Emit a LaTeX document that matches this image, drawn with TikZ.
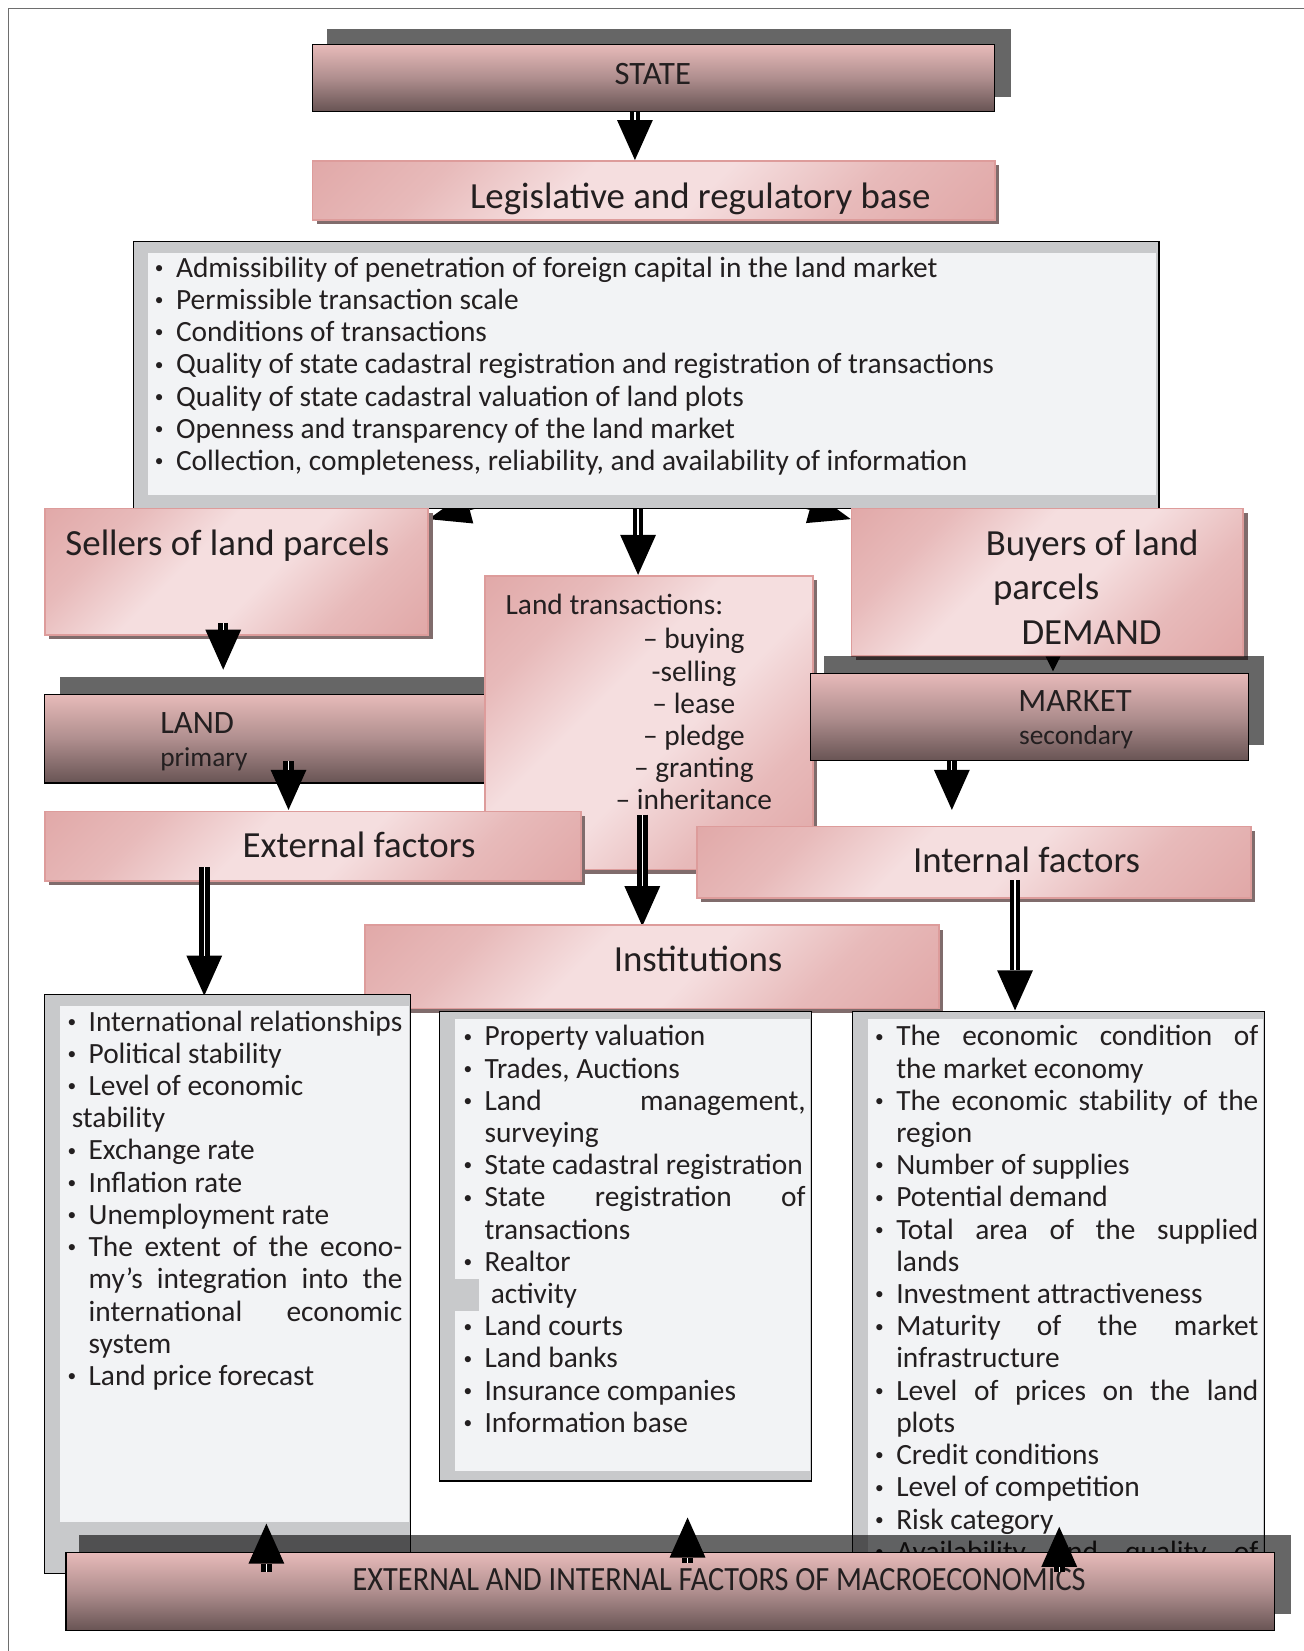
\documentclass[tikz,border=0pt]{standalone}
\usepackage{fontspec}
\setmainfont{Carlito}
\usetikzlibrary{arrows.meta,shadows,calc}
\definecolor{pinkD}{RGB}{218,150,149}
\definecolor{pinkL}{RGB}{245,222,223}
\definecolor{pinkB}{RGB}{221,156,155}
\definecolor{pshad}{RGB}{128,108,108}
\definecolor{darkT}{RGB}{231,186,185}
\definecolor{darkM}{RGB}{175,142,142}
\definecolor{darkB}{RGB}{104,84,84}
\definecolor{listO}{RGB}{200,201,203}
\definecolor{listI}{RGB}{242,243,245}
\definecolor{txt}{RGB}{35,31,32}
\definecolor{frameC}{RGB}{110,110,110}
\pgfdeclareverticalshading{pinkshade}{100bp}{color(0bp)=(pinkD); color(30bp)=(pinkD!50!pinkL); color(45bp)=(pinkL); color(58bp)=(pinkL); color(72bp)=(pinkD!50!pinkL); color(100bp)=(pinkD)}
\newcommand{\bul}{\makebox[20pt][l]{\raisebox{3.5pt}{\fontsize{16.5}{16.5}\selectfont\textbullet}}}
\newcommand{\ind}{\hspace*{20pt}}
\newcommand{\jus}[2]{\makebox[#1][s]{#2}}
\newcommand{\fst}{\rule{0pt}{22pt}}
\tikzset{
  lightbox/.style={draw=pinkB, line width=1.6pt, shading=pinkshade, shading angle=45, anchor=north west, inner sep=0pt, drop shadow={shadow xshift=4pt, shadow yshift=-4pt, fill=pshad, opacity=1}},
  darkbox/.style={draw=black, line width=1.2pt, top color=darkT, bottom color=darkB, middle color=darkM, anchor=north west, inner sep=0pt},
  listbox/.style={draw=black, line width=1.2pt, fill=listO, anchor=north west, inner sep=0pt},
  bigarr/.style={line width=10pt, -{Triangle[width=34pt,length=38pt,line width=0pt]}, postaction={draw=white, line width=1.2pt, arrows=-, shorten >=38pt}},
  diagarr/.style={line width=4pt, -{Triangle[width=30pt,length=40pt,line width=0pt]}},
  smallarr/.style={line width=2pt, -{Triangle[width=14pt,length=14pt,line width=0pt]}},
  titletext/.style={font=\fontsize{35}{42.5}\selectfont, text=txt, inner sep=0pt},
  listtext/.style={font=\fontsize{27.9}{30.6}\selectfont, text=txt, inner sep=0pt, anchor=north west, align=left},
  lbl/.style={font=\fontsize{31}{34}\selectfont, text=txt, inner sep=0pt},
  sublbl/.style={font=\fontsize{26}{30}\selectfont, text=txt, inner sep=0pt},
  shadowfill/.style={fill=black, opacity=0.6},
}
\begin{document}
\begin{tikzpicture}[x=1pt,y=-1pt]
\useasboundingbox (0,0) rectangle (1238,1568);
\draw[frameC, line width=1.2pt] (8,1568) -- (8,8) -- (1238,8);

% ---------- STATE
\fill[shadowfill] (311,28) rectangle (960,92);
\node[darkbox, minimum width=648pt, minimum height=63pt] (state) at (296,42) {};
\node[lbl, anchor=mid] (statet) at (620,78) {STATE};

% ---------- Legislative
\node[lightbox, minimum width=648pt, minimum height=56pt] (legis) at (296,152) {};
\node[titletext, anchor=mid] (legist) at (665,196) {Legislative and regulatory base};
\draw[bigarr] (state.south -| 603,0) -- (legis.north -| 603,0);

% ---------- Sellers / Buyers corner points (arrows hidden under big list)
\coordinate (selc) at (407,493);
\coordinate (buyc) at (808,493);
\draw[diagarr] (560,452) -- (selc);
\draw[diagarr] (660,452) -- (buyc);

% ---------- Big list
\node[listbox, minimum width=974pt, minimum height=253pt] (biglist) at (126,229) {};
\fill[listI] (141,240) rectangle (1098,470);
\node[listtext] (biglistt) at (147,241) {\fst\bul Admissibility of penetration of foreign capital in the land market\\
\bul Permissible transaction scale\\
\bul Conditions of transactions\\
\bul Quality of state cadastral registration and registration of transactions\\
\bul Quality of state cadastral valuation of land plots\\
\bul Openness and transparency of the land market\\
\bul Collection, completeness, reliability, and availability of information};

% ---------- Sellers
\node[lightbox, minimum width=364pt, minimum height=120pt] (sellers) at (42,482) {};
\node[titletext, anchor=mid west] (sellerst) at (62,525) {Sellers of land parcels};

% ---------- Buyers
\node[lightbox, minimum width=372pt, minimum height=140pt] (buyers) at (808,482) {};
\node[titletext, anchor=north west, align=left] (buyerst) at (936,500) {\rule{0pt}{27pt}Buyers of land\\\hspace*{7pt}parcels\\\hspace*{34pt}DEMAND};

% ---------- LAND
\fill[shadowfill] (57,643) rectangle (475,728);
\node[darkbox, minimum width=418pt, minimum height=84pt] (land) at (42,659) {};
\node[lbl, anchor=mid west] (landt) at (152,694) {LAND};
\node[sublbl, anchor=mid west] (landt2) at (152,726) {primary};

% ---------- Land transactions
\node[lightbox, minimum width=311pt, minimum height=279pt] (trans) at (460,546) {};
\node[listtext] (transt1) at (480,561) {\fst Land transactions:};
\node[listtext, anchor=north, align=center] (transt2) at (659,594) {\fst -- buying\\-selling\\-- lease\\-- pledge\\-- granting\\-- inheritance};
\draw[bigarr] (biglist.south -| 606,0) -- (trans.north -| 606,0);

% ---------- MARKET
\fill[shadowfill] (783,623) rectangle (1200,708);
\draw[smallarr] (buyers.south -| 1000,0) -- ($(1000,0 |- buyers.south)+(0,14)$) coordinate (mkt);
\node[darkbox, minimum width=416pt, minimum height=83pt] (market) at (769,639) {};
\node[lbl, anchor=mid] (marketc) at (1021,673) {MARKET};
\node[sublbl, anchor=mid] (markett2) at (1022,705) {secondary};

% arrows into factor boxes
\draw[bigarr] ($(sellers.south -| 212,0)+(0,-12)$) -- ($(land.north -| 212,0)+(0,-23)$);
\draw[bigarr] ($(land.south -| 274,0)+(0,-21)$) -- ($(land.south -| 274,0)+(0,25)$);
\draw[bigarr] (market.south -| 904,0) -- ($(market.south -| 904,0)+(0,46)$);

% ---------- External / Internal
\node[lightbox, minimum width=509pt, minimum height=66pt] (ext) at (42,770) {};
\node[titletext, anchor=mid] (extt) at (341,812) {External factors};
\node[lightbox, minimum width=526pt, minimum height=68pt] (int) at (661,784) {};
\node[titletext, anchor=mid] (intt) at (975,826) {Internal factors};

% ---------- Institutions
\draw[bigarr] ($(trans.south -| 610,0)+(0,-53)$) -- ($(trans.south -| 610,0)+(0,53)$);
\node[lightbox, minimum width=545pt, minimum height=79pt] (inst) at (346,878) {};
\node[titletext, anchor=mid] (instt) at (663,920) {Institutions};
\draw[bigarr] ($(ext.south -| 194,0)+(0,-14)$) -- ($(ext.south -| 194,0)+(0,108)$);
\draw[bigarr] ($(int.south -| 964,0)+(0,-18)$) -- ($(int.south -| 964,0)+(0,106)$);

% ---------- Left list
\node[listbox, minimum width=347pt, minimum height=550pt] (leftlist) at (42,944) {};
\fill[listI] (57,955) rectangle (388.4,1445);
\node[listtext] (leftlistt) at (64,957) {\fst\bul International relationships\\
\bul Political stability\\
\bul Level of economic\\
\hspace*{4pt}stability\\
\bul Exchange rate\\
\bul Inflation rate\\
\bul Unemployment rate\\
\bul\jus{298pt}{The extent of the econo-}\\
\ind\jus{298pt}{my's integration into the}\\
\ind\jus{298pt}{international economic}\\
\ind system\\
\bul Land price forecast};

% ---------- Middle list
\node[listbox, minimum width=353pt, minimum height=446pt] (midlist) at (417,960) {};
\fill[listI] (432,968) rectangle (769.4,1397);
\fill[listO] (432,1215) rectangle (455,1245);
\node[listtext] (midlistt) at (440,971) {\fst\bul Property valuation\\
\bul Trades, Auctions\\
\bul\jus{305pt}{Land management,}\\
\ind surveying\\
\bul State cadastral registration\\
\bul\jus{305pt}{State registration of}\\
\ind transactions\\
\bul Realtor\\
\hspace*{26pt}activity\\
\bul Land courts\\
\bul Land banks\\
\bul Insurance companies\\
\bul Information base};

% ---------- Right list
\node[listbox, minimum width=391pt, minimum height=540pt] (rightlist) at (809,960) {};
\fill[listI] (824,968) rectangle (1199.4,1499);
\node[listtext] (rightlistt) at (831,971) {\fst\bul\jus{344pt}{The economic condition of}\\
\ind the market economy\\
\bul\jus{344pt}{The economic stability of the}\\
\ind region\\
\bul Number of supplies\\
\bul Potential demand\\
\bul\jus{344pt}{Total area of the supplied}\\
\ind lands\\
\bul Investment attractiveness\\
\bul\jus{344pt}{Maturity of the market}\\
\ind infrastructure\\
\bul\jus{344pt}{Level of prices on the land}\\
\ind plots\\
\bul Credit conditions\\
\bul Level of competition\\
\bul Risk category\\
\raisebox{0pt}[\height][0pt]{\bul\jus{344pt}{Availability and quality of}}};

% ---------- Bottom
\fill[shadowfill] (75,1458) rectangle (1226,1533);
\node[darkbox, minimum width=1148pt, minimum height=74pt] (bottom) at (62,1474) {};
\node[lbl, anchor=mid, font=\fontsize{28.8}{30}\selectfont] (bottomt) at (683,1508) {\scalebox{1}[1.12]{EXTERNAL AND INTERNAL FACTORS OF MACROECONOMICS}};

\draw[bigarr] ($(bottom.north -| 253,0)+(0,19)$) -- ($(bottom.north -| 253,0)+(0,-27)$);
\draw[bigarr] ($(bottom.north -| 653,0)+(0,10)$) -- ($(midlist.south -| 653,0)+(0,34)$);
\draw[bigarr] ($(bottom.north -| 1006,0)+(0,19)$) -- ($(bottom.north -| 1006,0)+(0,-24)$);
\end{tikzpicture}
\end{document}
